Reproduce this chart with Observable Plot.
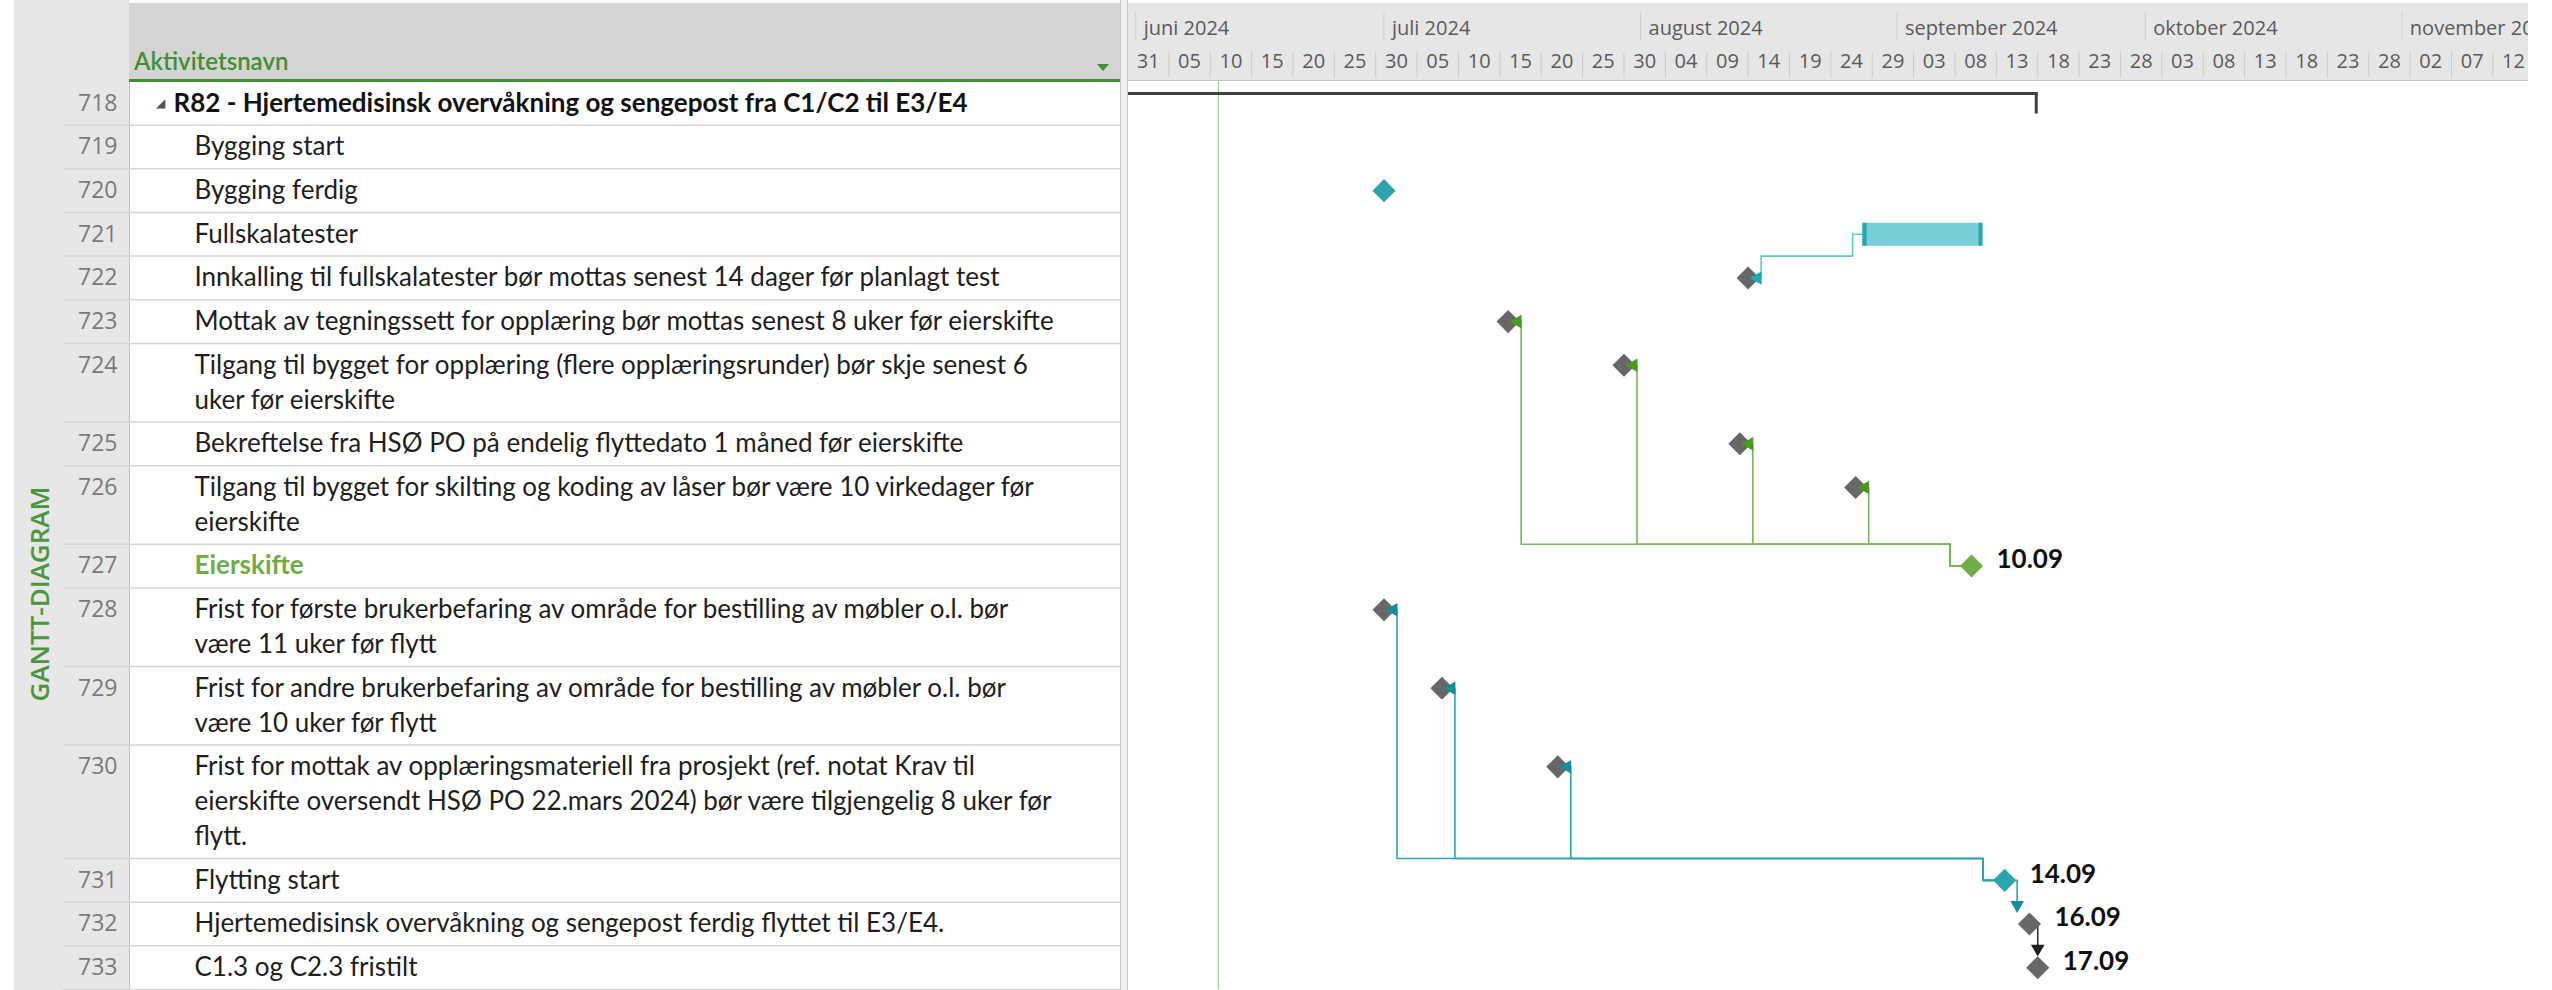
<!DOCTYPE html>
<html>
<head>
<meta charset="utf-8">
<script src="https://cdn.jsdelivr.net/npm/d3@7"></script>
<script src="https://cdn.jsdelivr.net/npm/@observablehq/plot@0.6"></script>
<style>
html, body { margin: 0; padding: 0; background: #fff; overflow: hidden; }
#wrap { position: relative; width: 2552px; height: 990px; background: #fff; }
.abs { position: absolute; }
.clip { position: absolute; overflow: hidden; }
</style>
</head>
<body>
<div id="wrap">
  <div class="abs" style="left:14px;top:0;width:115px;height:990px;background:#e7e7e7"></div>
  <div class="abs" style="left:129px;top:3px;width:992px;height:77px;background:#d4d4d4"></div>
  <div class="abs" style="left:129px;top:79px;width:992px;height:3px;background:#3f8f33"></div>
  <div class="abs" style="left:129px;top:82px;width:1px;height:908px;background:#c4c4c4"></div>
  <div class="abs" style="left:1120px;top:0;width:8px;height:990px;background:#f0f0f0;border-left:1px solid #c6c6c6;border-right:1px solid #c6c6c6;box-sizing:border-box"></div>
  <div class="abs" style="left:1128px;top:3px;width:1400px;height:77px;background:#e6e6e6"></div>
  <div class="abs" style="left:1128px;top:80px;width:1400px;height:1px;background:#c3c3c3"></div>
  <div class="abs" style="left:134px;top:46px;font:600 24px Lato, sans-serif;line-height:30px;color:#3f8f33">Aktivitetsnavn</div>
  <div class="abs" style="left:1097px;top:64px;width:0;height:0;border-left:6px solid transparent;border-right:6px solid transparent;border-top:7px solid #3f8f33"></div>
  <div class="abs" style="left:39px;top:594px;transform:translate(-50%,-50%) rotate(-90deg);white-space:nowrap;font:600 26px 'Open Sans', sans-serif;line-height:30px;color:#4a963c">GANTT-DIAGRAM</div>
  <div id="left" class="clip" style="left:0;top:81px;width:1128px;height:909px"></div>
  <div id="hdr" class="clip" style="left:1128px;top:0;width:1400px;height:81px"></div>
  <div id="body" class="clip" style="left:1128px;top:81px;width:1400px;height:909px"></div>
</div>
<script>
// ---------------- data ----------------
const ids = [718, 719, 720, 721, 722, 723, 724, 725, 726, 727, 728, 729, 730, 731, 732, 733];
const names = [
  "R82 - Hjertemedisinsk overvåkning og sengepost fra C1/C2 til E3/E4",
  "Bygging start",
  "Bygging ferdig",
  "Fullskalatester",
  "Innkalling til fullskalatester bør mottas senest 14 dager før planlagt test",
  "Mottak av tegningssett for opplæring bør mottas senest 8 uker før eierskifte",
  "Tilgang til bygget for opplæring (flere opplæringsrunder) bør skje senest 6\nuker før eierskifte",
  "Bekreftelse fra HSØ PO på endelig flyttedato 1 måned før eierskifte",
  "Tilgang til bygget for skilting og koding av låser bør være 10 virkedager før\neierskifte",
  "Eierskifte",
  "Frist for første brukerbefaring av område for bestilling av møbler o.l. bør\nvære 11 uker før flytt",
  "Frist for andre brukerbefaring av område for bestilling av møbler o.l. bør\nvære 10 uker før flytt",
  "Frist for mottak av opplæringsmateriell fra prosjekt (ref. notat Krav til\neierskifte oversendt HSØ PO 22.mars 2024) bør være tilgjengelig 8 uker før\nflytt.",
  "Flytting start",
  "Hjertemedisinsk overvåkning og sengepost ferdig flyttet til E3/E4.",
  "C1.3 og C2.3 fristilt"
];
const levels = [1, 2, 2, 2, 2, 2, 2, 2, 2, 2, 2, 2, 2, 2, 2, 2];
const groups = ["sammendrag", null, "milepæl", "oppgave", "frist", "frist", "frist", "frist", "frist",
                "eierskifte", "frist", "frist", "frist", "milepæl", "frist", "frist"];
const starts = [
  "2024-05-01", null, "2024-07-01", "2024-08-27T20:00Z", "2024-08-14", "2024-07-16", "2024-07-30",
  "2024-08-13", "2024-08-27", "2024-09-10", "2024-07-01", "2024-07-08", "2024-07-22", "2024-09-14",
  "2024-09-16T23:59Z", "2024-09-17T23:59Z"
];
const finishes = [
  "2024-09-18", null, null, "2024-09-11T08:00Z", null, null, null, null, null, null, null, null, null, null, null, null
];
const dateLabels = [null, null, null, null, null, null, null, null, null, "10.09", null, null, null, "14.09", "16.09", "17.09"];
const linkFrom = [721, 727, 727, 727, 727, 731, 731, 731, 731, 732];
const linkTo   = [722, 723, 724, 725, 726, 728, 729, 730, 732, 733];
const linkType = ["SF", "SF", "SF", "SF", "SF", "SF", "SF", "SF", "FS", "FS"];
const statusDate = "2024-06-11";
const keyMilestone = 727;
const monthStarts = ["2024-06-01", "2024-07-01", "2024-08-01", "2024-09-01", "2024-10-01", "2024-11-01"];
const monthLabels = ["juni 2024", "juli 2024", "august 2024", "september 2024", "oktober 2024", "november 2024"];
const dayTicks = [
  "2024-05-31", "2024-06-05", "2024-06-10", "2024-06-15", "2024-06-20", "2024-06-25", "2024-06-30",
  "2024-07-05", "2024-07-10", "2024-07-15", "2024-07-20", "2024-07-25", "2024-07-30",
  "2024-08-04", "2024-08-09", "2024-08-14", "2024-08-19", "2024-08-24", "2024-08-29",
  "2024-09-03", "2024-09-08", "2024-09-13", "2024-09-18", "2024-09-23", "2024-09-28",
  "2024-10-03", "2024-10-08", "2024-10-13", "2024-10-18", "2024-10-23", "2024-10-28",
  "2024-11-02", "2024-11-07", "2024-11-12"
];
const viewStart = "2024-05-31T03:00Z";
const viewEnd = "2024-11-16T07:20Z";

// ---------------- layout helpers ----------------
const W = 1400, HB = 909;
const xStart = new Date(viewStart), xEnd = new Date(viewEnd);
const pxDay = W / ((xEnd - xStart) / 864e5);

const rows = ids.map((id, i) => ({
  id, i, name: names[i], level: levels[i], group: groups[i],
  start: starts[i] ? new Date(starts[i]) : null,
  finish: finishes[i] ? new Date(finishes[i]) : null,
  label: dateLabels[i]
}));
let acc = 0;
rows.forEach(r => {
  const n = r.name.split("\n").length;
  r.top = acc; acc += n + 0.25; r.bottom = acc; r.y = r.top + 0.625;
});
const total = acc;
const pxU = (HB - 1) / total;
const sx = (d, px) => new Date(+d + px / pxDay * 864e5);
const su = px => px / pxU;
const byId = new Map(rows.map(r => [r.id, r]));

const lineRows = rows.flatMap(r => r.name.split("\n").map((t, k) => ({id: r.id, level: r.level, text: t, y: r.y + k})));
const boundaries = rows.map(r => r.bottom);

const milestones = rows.filter(r => r.start && ["milepæl", "frist", "eierskifte"].includes(r.group));
const summaries = rows.filter(r => r.group === "sammendrag");
const tasks = rows.filter(r => r.group === "oppgave");

const linkPts = [], arrows = [];
linkFrom.forEach((f, k) => {
  const P = byId.get(f), S = byId.get(linkTo[k]);
  const col = P.group;
  if (linkType[k] === "SF") {
    const hp = P.group === "oppgave" ? 0 : 11.5;
    const elbow = Math.max(P.top, S.top);
    [[sx(P.start, -hp + 2), P.y], [sx(P.start, -hp - 10), P.y], [sx(P.start, -hp - 10), elbow],
     [sx(S.start, 13), elbow], [sx(S.start, 13), S.y], [sx(S.start, 11), S.y]]
      .forEach(([x, y]) => linkPts.push({k, x, y, key: "ln-" + col}));
    arrows.push({x: sx(S.start, 9.5), y: S.y, rot: -90, key: "ar-" + col});
  } else {
    const vx = new Date(Math.min(+S.start, +sx(P.start, 12.5)));
    [[sx(P.start, 6), P.y], [vx, P.y], [vx, S.y - su(19)]]
      .forEach(([x, y]) => linkPts.push({k, x, y, key: "ln-" + col}));
    arrows.push({x: vx, y: S.y - su(19), rot: 180, key: "ar-" + col});
  }
});

const palette = new Map([
  ["ms-milepæl", "#2aa4ad"], ["ms-eierskifte", "#70ad47"], ["ms-frist", "#676767"],
  ["ln-oppgave", "#5cc8d1"], ["ln-eierskifte", "#77b957"], ["ln-milepæl", "#2aa6b0"], ["ln-frist", "#333333"],
  ["ar-oppgave", "#1aabb9"], ["ar-eierskifte", "#4a9a1e"], ["ar-milepæl", "#138f9b"], ["ar-frist", "#1e1e1e"]
]);
const colorScale = {type: "ordinal", domain: [...palette.keys()], range: [...palette.values()]};

// ---------------- left table ----------------
const leftPlot = Plot.plot({
  width: 1128, height: HB, marginTop: 0, marginBottom: 1, marginLeft: 0, marginRight: 0,
  style: "background: transparent; overflow: hidden;",
  y: {domain: [0, total], reverse: true, axis: null},
  marks: [
    Plot.ruleY(boundaries, {y: d => d, insetLeft: 63, insetRight: 8, stroke: "#d6d6d6", strokeWidth: 1.5}),
    Plot.text(rows, {y: "y", text: d => String(d.id), frameAnchor: "left", dx: 117, textAnchor: "end",
      fontSize: 23, fontFamily: "Open Sans", fill: "#7a7a7a"}),
    Plot.text(summaries, {y: "y", text: () => "◢", frameAnchor: "left", dx: 160, textAnchor: "middle",
      fontSize: 12, fontFamily: "DejaVu Sans", fill: "#555"}),
    Plot.text(lineRows.filter(d => d.level === 1), {y: "y", text: "text", frameAnchor: "left", dx: 173,
      textAnchor: "start", fontSize: 26, fontWeight: "bold", fontFamily: "Lato", fill: "#111"}),
    Plot.text(lineRows.filter(d => d.level === 2 && d.id !== keyMilestone), {y: "y", text: "text", frameAnchor: "left", dx: 194,
      textAnchor: "start", fontSize: 26, fontFamily: "Lato", fill: "#1e1e1e"}),
    Plot.text(lineRows.filter(d => d.id === keyMilestone), {y: "y", text: "text", frameAnchor: "left", dx: 194,
      textAnchor: "start", fontSize: 26, fontWeight: "bold", fontFamily: "Lato", fill: "#70ad47"})
  ]
});
document.getElementById("left").append(leftPlot);

// ---------------- timescale header ----------------
const xScale = {type: "utc", domain: [xStart, xEnd], range: [0, W], axis: null};
const fmtDay = d3.utcFormat("%d");
const hdrPlot = Plot.plot({
  width: W, height: 81, marginTop: 0, marginBottom: 0, marginLeft: 0, marginRight: 0,
  style: "background: transparent; overflow: hidden;",
  x: xScale,
  marks: [
    Plot.ruleX(monthStarts.map(d => new Date(d)), {x: d => d, insetTop: 12, insetBottom: 41, stroke: "#cfcfcf"}),
    Plot.text(monthStarts.map(d => new Date(d)), {x: d => d, text: (d, i) => monthLabels[i], frameAnchor: "top", lineAnchor: "middle",
      dy: 28, dx: 8, textAnchor: "start", fontSize: 20, fontFamily: "Open Sans", fill: "#5a5a5a"}),
    Plot.ruleX(dayTicks.map(d => new Date(d)), {x: d => d, insetTop: 52, insetBottom: 3, stroke: "#cccccc"}),
    Plot.text(dayTicks.map(d => new Date(d)), {x: d => new Date(+d + 2.5 * 864e5), text: d => fmtDay(d), frameAnchor: "top",
      lineAnchor: "middle", dy: 61, textAnchor: "middle", fontSize: 20, fontFamily: "Open Sans", fill: "#5a5a5a"})
  ]
});
document.getElementById("hdr").append(hdrPlot);

// ---------------- gantt body ----------------
const bodyPlot = Plot.plot({
  width: W, height: HB, marginTop: 0, marginBottom: 1, marginLeft: 0, marginRight: 0,
  style: "background: transparent; overflow: hidden;",
  x: xScale,
  y: {domain: [0, total], reverse: true, axis: null},
  color: colorScale,
  marks: [
    Plot.ruleX([new Date(statusDate)], {x: d => d, stroke: "#9ad19a", strokeWidth: 1.3}),
    Plot.ruleY(summaries, {y: d => d.top + su(12), x1: "start", x2: "finish", stroke: "#404040", strokeWidth: 3, clip: true}),
    Plot.ruleX(summaries, {x: "finish", y1: d => d.top + su(11), y2: d => d.top + su(32.5), dx: -1.5, stroke: "#404040", strokeWidth: 3}),
    Plot.line(linkPts, {x: "x", y: "y", z: "k", stroke: "key", strokeWidth: 1.6, curve: "linear"}),
    Plot.rect(tasks, {x1: "start", x2: "finish", y1: d => d.y - su(11), y2: d => d.y + su(12), fill: "#78ced5"}),
    Plot.ruleX(tasks, {x: "start", y1: d => d.y - su(11), y2: d => d.y + su(12), dx: 2, stroke: "#2aa6b0", strokeWidth: 4}),
    Plot.ruleX(tasks, {x: "finish", y1: d => d.y - su(11), y2: d => d.y + su(12), dx: -2, stroke: "#2aa6b0", strokeWidth: 4}),
    Plot.dot(milestones, {x: "start", y: "y", symbol: "diamond2", r: 10.4, fill: d => "ms-" + d.group, stroke: "none"}),
    Plot.dot(arrows, {x: "x", y: "y", symbol: "triangle2", r: 6.5, rotate: "rot", fill: "key", stroke: "none"}),
    Plot.text(milestones.filter(d => d.label), {x: "start", y: "y", text: "label", dx: 25, dy: -6, textAnchor: "start",
      fontSize: 26, fontWeight: "bold", fontFamily: "Lato", fill: "#111"})
  ]
});
document.getElementById("body").append(bodyPlot);
</script>
</body>
</html>
